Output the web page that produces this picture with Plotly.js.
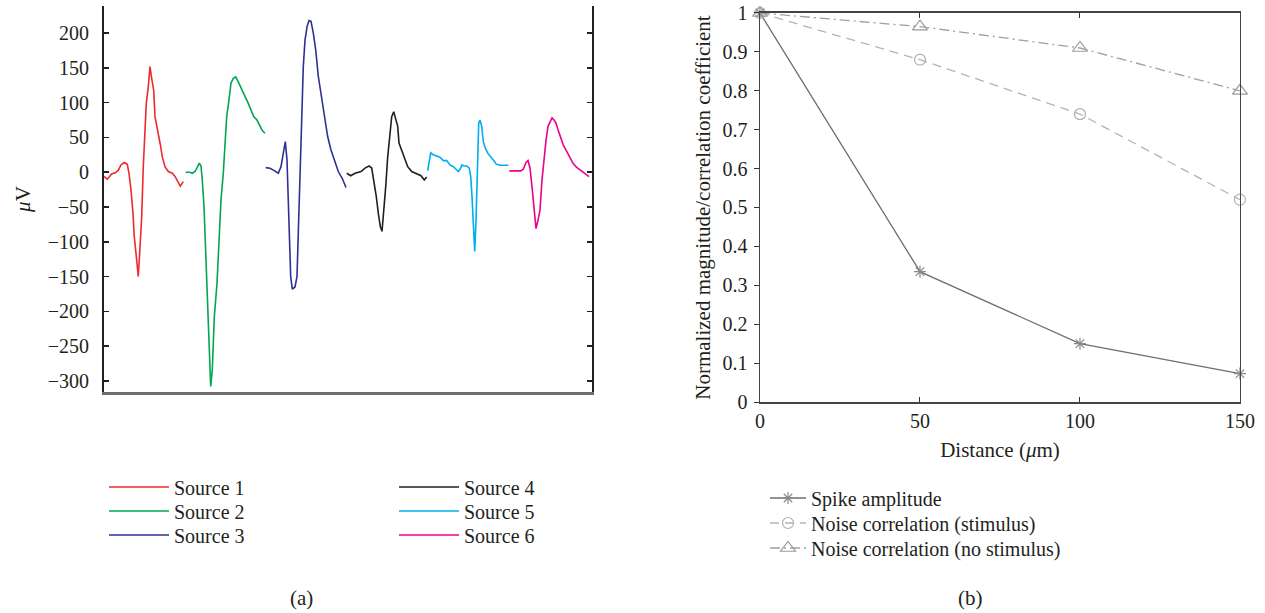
<!DOCTYPE html>
<html>
<head>
<meta charset="utf-8">
<script src="https://cdn.plot.ly/plotly-3.0.1.min.js"></script>
<style>html,body{margin:0;padding:0;background:#fff;}#chart{width:1265px;height:613px;}</style>
</head>
<body>
<div id="chart"></div>
<script>
// ---- Panel (a): spike waveforms (time in samples, amplitude in µV) ----
const sourceNames = ["Source 1", "Source 2", "Source 3", "Source 4", "Source 5", "Source 6"];
const sourceColors = ["#ee2a2e", "#00a651", "#2e3192", "#231f20", "#00aeef", "#ec008c"];

const s1_t = [0, 3.3, 7.7, 11.7, 14.3, 17, 20.3, 23.3, 25, 27, 29, 30.3, 32.3, 34.3, 35.7, 37.7, 39.3, 41, 42.3, 44.3, 46, 47.7, 49.7, 51, 53, 55, 56.7, 58.3, 61, 64.3, 68.3, 71, 73.7, 76.3, 79.3];
const s1_v = [-6, -10, -2.5, -0.5, 3, 10.5, 14, 11.5, -1.5, -25, -59, -93, -121, -150, -116, -64, 8, 56, 99, 123, 152, 135, 118, 80, 66, 51, 37, 22, 8, 1, -1.5, -6, -13.5, -20, -13.5];

const s2_t = [81.7, 86, 88.3, 91, 93.7, 95.3, 97, 98.3, 100, 101.7, 103.3, 105, 106.7, 108.3, 110.3, 113, 115, 117, 119.3, 121, 122.7, 125, 127, 129.3, 131.7, 134.3, 137.7, 141, 144.3, 147, 149.7, 153, 156, 158.3, 161];
const s2_v = [0, 0, -1.5, 1, 8, 13, 9, -11, -49, -112, -184, -256, -308, -284, -208, -160, -102, -40, -1.5, 42, 80, 104, 128, 135, 137, 130, 118, 109, 99, 90, 80, 75, 66, 60, 56];

const s3_t = [161.7, 166, 170.3, 174.3, 177, 179.3, 181.3, 183, 184.3, 185.3, 186.7, 188.3, 191, 193, 194.3, 196, 197.7, 199.3, 201, 203, 205, 207, 209.3, 211.7, 214.3, 217, 219.3, 221.7, 223.7, 227, 230.3, 234.3, 238.3, 242];
const s3_v = [6.6, 5.8, 2.3, -1.5, 8, 27, 44, 18, -40, -112, -150, -168, -165, -150, -88, 8, 104, 152, 190, 209, 218, 217, 200, 176, 138, 114, 90, 66, 51, 32, 18, 1, -9, -22];

const s4_t = [242.7, 246.7, 251, 257, 261, 265, 267.7, 269.7, 272.3, 274.3, 276.3, 278, 279.7, 281.7, 283.7, 285.7, 287.7, 289.7, 291.7, 293.7, 295, 297.7, 300.3, 303.7, 307.7, 312.7, 317, 320.3, 322.7];
const s4_v = [-1.5, -5, -1.5, 1, 6, 9, 6, -11, -35, -59, -78, -85, -59, -21, 22, 56, 80, 87, 75, 66, 42, 32, 20, 8, 1, -2.5, -5, -11, -7];

const s5_t = [323.7, 326.7, 329.3, 332.7, 336, 339.3, 342.7, 346, 349.3, 352, 354.3, 356, 358, 360, 362.7, 365.3, 366.7, 368, 369.3, 370.7, 372, 373.3, 374.7, 376, 377.7, 379.3, 381.3, 384, 386.7, 389.3, 392, 396, 401, 404.3];
const s5_v = [2.3, 28, 25, 23, 21.6, 16.7, 16.7, 10.5, 8, 4.3, 1, 4.3, 10.5, 9, 9, 5.8, -6.3, -35, -73, -114, -69, 13, 70.5, 75, 66, 44, 34.5, 27, 23, 17.7, 12, 10, 10, 10];

const s6_t = [405.3, 411, 416.7, 419.3, 422, 424, 426, 428, 430, 432, 434, 436, 438, 440, 442, 444, 446, 448, 450, 452, 454, 456.7, 459.3, 462.7, 466, 469.3, 472.7, 476, 479.3, 482.7, 485];
const s6_v = [1.9, 1.9, 1.9, 4.3, 14, 16.7, 5.8, -21, -54, -81, -69, -54, -11, 22, 46, 66, 73, 78, 75, 70.5, 61, 51, 39, 30, 20, 12, 7, 3.3, -0.5, -4, -6.3];

const sourceT = [s1_t, s2_t, s3_t, s4_t, s5_t, s6_t];
const sourceV = [s1_v, s2_v, s3_v, s4_v, s5_v, s6_v];

// ---- Panel (b): normalized magnitude / correlation vs distance ----
const distance = [0, 50, 100, 150];
const spikeAmplitude = [1, 0.335, 0.15, 0.073];
const noiseCorrStim = [1, 0.88, 0.74, 0.52];
const noiseCorrNoStim = [1, 0.965, 0.91, 0.80];
const seriesNames = ["Spike amplitude", "Noise correlation (stimulus)", "Noise correlation (no stimulus)"];

const FONT = "'Liberation Serif', 'DejaVu Serif', serif";
const TXT = "#231f20";

const traces = [];
for (let i = 0; i < 6; i++) {
  traces.push({
    x: sourceT[i], y: sourceV[i], type: "scatter", mode: "lines",
    name: sourceNames[i], xaxis: "x", yaxis: "y",
    line: {color: sourceColors[i], width: 1.6},
    legend: i === 0 ? "legend" : "legend" + (i + 1)
  });
}
traces.push({
  x: distance, y: spikeAmplitude, type: "scatter", mode: "lines+markers", name: seriesNames[0],
  xaxis: "x2", yaxis: "y2", legend: "legend7", cliponaxis: false,
  line: {color: "#6e6e6e", width: 1.3},
  marker: {symbol: "asterisk-open", size: 10, color: "#8a8a8a", line: {color: "#8a8a8a", width: 1.2}}
});
traces.push({
  x: distance, y: noiseCorrStim, type: "scatter", mode: "lines+markers", name: seriesNames[1],
  xaxis: "x2", yaxis: "y2", legend: "legend8", cliponaxis: false,
  line: {color: "#b4b4b4", width: 1.3, dash: "9px,6px"},
  marker: {symbol: "circle-open", size: 11, color: "#b0b0b0", line: {color: "#b0b0b0", width: 1.2}}
});
traces.push({
  x: distance, y: noiseCorrNoStim, type: "scatter", mode: "lines+markers", name: seriesNames[2],
  xaxis: "x2", yaxis: "y2", legend: "legend9", cliponaxis: false,
  line: {color: "#a0a0a0", width: 1.3, dash: "10px,4px,2px,4px"},
  marker: {symbol: "triangle-up-open", size: 13, color: "#9a9a9a", line: {color: "#9a9a9a", width: 1.2}}
});

function leg(x, yPix, itemwidth) {
  return {
    bgcolor: "rgba(0,0,0,0)", borderwidth: 0, orientation: "v",
    xanchor: "left", yanchor: "middle", itemwidth: itemwidth,
    x: x / 1265, y: 1 - yPix / 613,
    font: {family: FONT, size: 20, color: TXT}
  };
}

const layout = {
  width: 1265, height: 613,
  margin: {l: 0, r: 0, t: 0, b: 0},
  paper_bgcolor: "#ffffff", plot_bgcolor: "#ffffff",
  font: {family: FONT, size: 20, color: TXT},
  showlegend: true,
  xaxis: {
    domain: [0.0822, 0.468], range: [0, 488], anchor: "y",
    showticklabels: false, ticks: "", showgrid: false, zeroline: false,
    showline: true, mirror: false, linecolor: "#6d6e71", linewidth: 2.5
  },
  xaxis3: {
    overlaying: "x", anchor: "y", side: "top", range: [0, 488],
    showticklabels: false, ticks: "", showgrid: false, zeroline: false,
    showline: true, linecolor: "#231f20", linewidth: 2
  },
  yaxis: {
    domain: [0.3605, 0.9902], range: [-316, 239], anchor: "x",
    tick0: 0, dtick: 50, ticks: "inside", ticklen: 5, tickcolor: "#231f20", tickwidth: 1.5,
    showgrid: false, zeroline: false, showline: true, mirror: "ticks",
    linecolor: "#231f20", linewidth: 2, ticklabelstandoff: 9,
    tickfont: {family: FONT, size: 20, color: TXT},
    title: {text: "<i>μ</i>V", font: {family: FONT, size: 21, color: TXT}, standoff: 11}
  },
  xaxis2: {
    domain: [0.6008, 0.9802], range: [0, 150], anchor: "y2",
    dtick: 50, ticks: "inside", ticklen: 5, tickcolor: "#333",
    showgrid: false, zeroline: false, showline: true, mirror: "ticks",
    linecolor: "#444", linewidth: 1.5,
    tickfont: {family: FONT, size: 20, color: TXT},
    title: {text: "Distance (<i>μ</i>m)", font: {family: FONT, size: 21, color: TXT}, standoff: 12}
  },
  yaxis2: {
    domain: [0.3442, 0.9788], range: [0, 1], anchor: "x2",
    dtick: 0.1, ticks: "outside", ticklen: 5, tickcolor: "#333",
    showgrid: false, zeroline: false, showline: true, mirror: true,
    linecolor: "#444", linewidth: 1.5, ticklabelstandoff: 2,
    tickfont: {family: FONT, size: 20, color: TXT},
    title: {text: "Normalized magnitude/correlation coefficient", font: {family: FONT, size: 21, color: TXT}, standoff: 6}
  },
  yaxis3: {
    overlaying: "y2", anchor: "x2", side: "right", range: [0, 1],
    dtick: 0.1, ticks: "inside", ticklen: 6, tickcolor: "#333",
    showticklabels: false, showgrid: false, zeroline: false, showline: false
  },
  legend: leg(104, 487, 60),
  legend2: leg(104, 511, 60),
  legend3: leg(104, 535, 60),
  legend4: leg(394, 487, 60),
  legend5: leg(394, 511, 60),
  legend6: leg(394, 535, 60),
  legend7: leg(765, 498, 36),
  legend8: leg(765, 523, 36),
  legend9: leg(765, 548, 36),
  annotations: [
    {text: "(a)", xref: "paper", yref: "paper", xanchor: "center", yanchor: "middle", x: 301 / 1265, y: 1 - 598 / 613, showarrow: false, font: {family: FONT, size: 21, color: TXT}},
    {text: "(b)", xref: "paper", yref: "paper", xanchor: "center", yanchor: "middle", x: 970 / 1265, y: 1 - 598 / 613, showarrow: false, font: {family: FONT, size: 21, color: TXT}}
  ]
};

Plotly.newPlot("chart", traces, layout, {displayModeBar: false, staticPlot: true});
</script>
</body>
</html>
